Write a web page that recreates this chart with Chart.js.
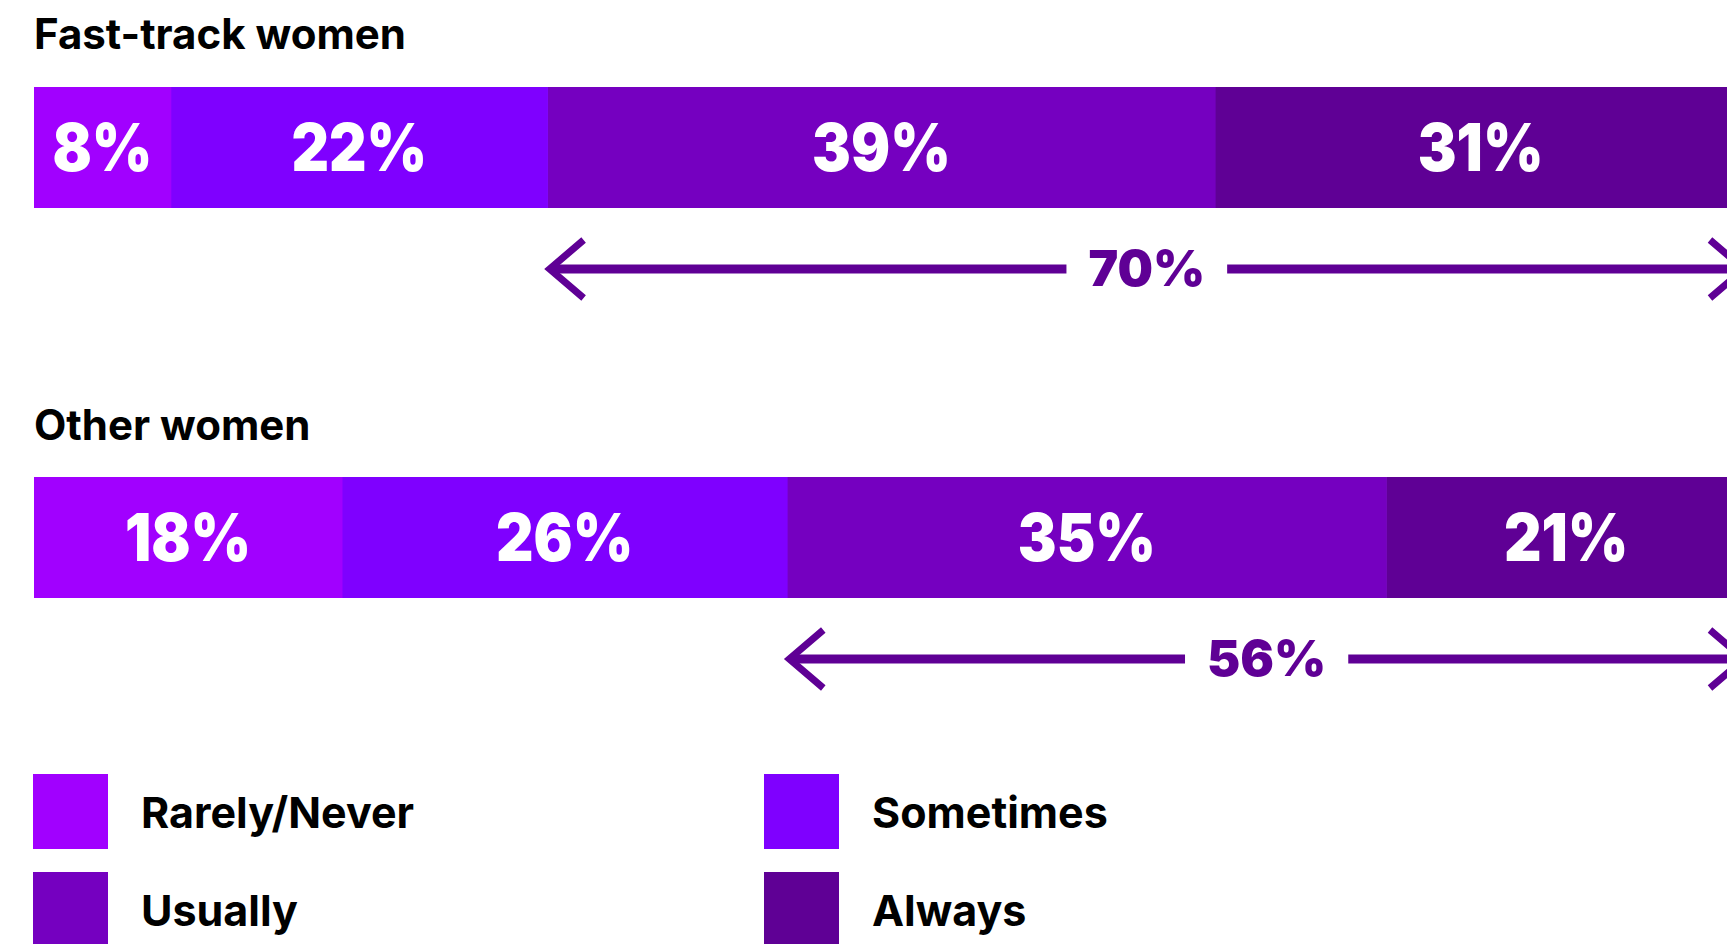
<!DOCTYPE html>
<html>
<head>
<meta charset="utf-8">
<script src="https://cdn.jsdelivr.net/npm/chart.js@4.4.1/dist/chart.umd.min.js"></script>
<style>
  body { margin: 0; background: #fff; width: 1727px; height: 944px; overflow: hidden; position: relative; font-family: Inter, "Noto Sans", sans-serif; }
  .title { position: absolute; left: 34px; font-size: 42px; font-weight: 700; color: #000; line-height: 1; }
  canvas { position: absolute; left: 0; }
  .sw { position: absolute; width: 75px; height: 75px; }
  .lab { position: absolute; font-size: 43px; font-weight: 700; color: #000; line-height: 1; }
</style>
</head>
<body>
<div class="title" style="top:13px">Fast-track women</div>
<canvas id="chartFast" width="1765" height="240" style="top:87px"></canvas>
<div class="title" style="top:404px">Other women</div>
<canvas id="chartOther" width="1765" height="240" style="top:477px"></canvas>
<div id="legend"></div>
<script>
var groups = ['Fast-track women', 'Other women'];
var categories = ['Rarely/Never', 'Sometimes', 'Usually', 'Always'];
var fastTrack = [8, 22, 39, 31];
var otherWomen = [18, 26, 35, 21];
var usuallyOrAlways = [70, 56];
var colors = ['#A100FF', '#7F00FF', '#7500C0', '#5F0095'];
var arrowColor = '#5F0095';

// value labels inside segments + arrow under the bar
var barNotes = {
    id: 'barNotes',
    afterDatasetsDraw: function (chart, args, opts) {
        var ctx = chart.ctx;
        ctx.save();
        ctx.fillStyle = '#fff';
        ctx.font = '900 66px Inter, "Noto Sans", sans-serif';
        ctx.textAlign = 'center';
        ctx.textBaseline = 'middle';
        chart.data.datasets.forEach(function (ds, i) {
            var bar = chart.getDatasetMeta(i).data[0];
            var cx = (bar.x + bar.base) / 2;
            ctx.save();
            ctx.translate(cx, bar.y + 4);
            ctx.scale(0.88, 1);
            ctx.fillText(ds.data[0] + '%', 0, 0);
            ctx.restore();
        });

        var xs = chart.scales.x;
        var x0 = xs.getPixelForValue(opts.start);
        var x1 = xs.getPixelForValue(100);
        var y = chart.chartArea.bottom + 61;
        var mid = (x0 + x1) / 2;
        ctx.font = '900 50px Inter, "Noto Sans", sans-serif';
        var tw = ctx.measureText(opts.label).width;
        var gap = tw / 2 + 22;

        ctx.strokeStyle = arrowColor;
        ctx.lineWidth = 9;
        ctx.beginPath();
        ctx.moveTo(x0 + 4, y); ctx.lineTo(mid - gap, y);
        ctx.moveTo(mid + gap, y); ctx.lineTo(x1 - 4, y);
        ctx.stroke();
        ctx.lineWidth = 7;
        ctx.beginPath();
        ctx.moveTo(x0 + 36, y - 29); ctx.lineTo(x0 + 2, y); ctx.lineTo(x0 + 36, y + 29);
        ctx.moveTo(x1 - 36, y - 29); ctx.lineTo(x1 - 2, y); ctx.lineTo(x1 - 36, y + 29);
        ctx.stroke();

        ctx.fillStyle = arrowColor;
        ctx.fillText(opts.label, mid, y + 2);
        ctx.restore();
    }
};

function drawGroup(id, name, values, total) {
    var datasets = categories.map(function (c, i) {
        return {
            label: c,
            data: [values[i]],
            backgroundColor: colors[i],
            borderWidth: 0,
            barPercentage: 1,
            categoryPercentage: 1
        };
    });
    new Chart(document.getElementById(id).getContext('2d'), {
        type: 'bar',
        data: {labels: [name], datasets: datasets},
        plugins: [barNotes],
        options: {
            indexAxis: 'y',
            responsive: false,
            animation: false,
            // the bar runs a little past the right edge of the page
            layout: {padding: {left: 34, right: 19, top: 0, bottom: 119}},
            scales: {
                x: {stacked: true, min: 0, max: 100, display: false},
                y: {stacked: true, display: false}
            },
            plugins: {
                legend: {display: false},
                tooltip: {enabled: false},
                barNotes: {start: values[0] + values[1], label: total + '%'}
            }
        }
    });
}

drawGroup('chartFast', groups[0], fastTrack, usuallyOrAlways[0]);
drawGroup('chartOther', groups[1], otherWomen, usuallyOrAlways[1]);

// legend, two columns
var legend = document.getElementById('legend');
var pos = [[33, 774], [764, 774], [33, 872], [764, 872]];
categories.forEach(function (c, i) {
    var sw = document.createElement('div');
    sw.className = 'sw';
    sw.style.left = pos[i][0] + 'px';
    sw.style.top = pos[i][1] + 'px';
    sw.style.background = colors[i];
    legend.appendChild(sw);
    var lab = document.createElement('div');
    lab.className = 'lab';
    lab.style.left = (pos[i][0] + 108) + 'px';
    lab.style.top = (pos[i][1] + 17) + 'px';
    lab.textContent = c;
    legend.appendChild(lab);
});
</script>
</body>
</html>
